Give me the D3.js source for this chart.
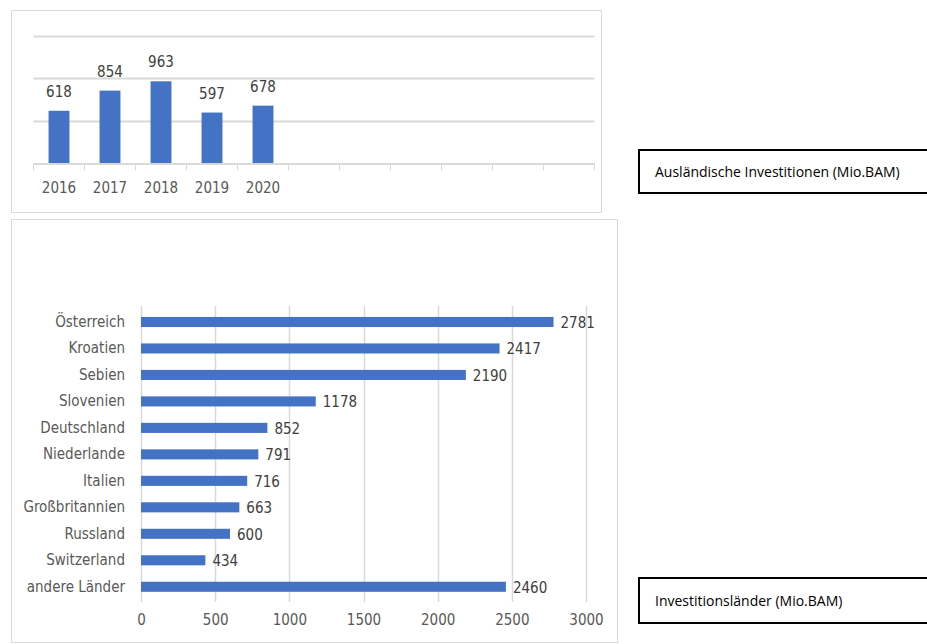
<!DOCTYPE html>
<html>
  <head>
    <meta charset="utf-8">
    <title>Ausländische Investitionen</title>
    <style>
      body { margin: 0; background: #fff; }
      svg text { font-family: "Liberation Sans Narrow", "DejaVu Sans Condensed", "Roboto", sans-serif; }
    </style>
  </head>
  <body>
    <script src="https://d3js.org/d3.v7.min.js"></script>
    <svg id="chart" width="927" height="644"></svg>
    <script>
      // data, top chart
      years = ["2016", "2017", "2018", "2019", "2020"]
      yearValues = [618, 854, 963, 597, 678]
      emptySlots = ["s1", "s2", "s3", "s4", "s5", "s6"]
      yearTicks = [500, 1000, 1500]

      // data, bottom chart
      countries = ["Österreich", "Kroatien", "Sebien", "Slovenien", "Deutschland", "Niederlande",
                   "Italien", "Großbritannien", "Russland", "Switzerland", "andere Länder"]
      countryValues = [2781, 2417, 2190, 1178, 852, 791, 716, 663, 600, 434, 2460]
      countryTicks = [0, 500, 1000, 1500, 2000, 2500, 3000]

      legendTop = "Ausländische Investitionen (Mio.BAM)"
      legendBottom = "Investitionsländer (Mio.BAM)"

      barColor = "#4472c4"
      gridColor = "#d9d9d9"
      labelColor = "#595959"

      let svg = d3.select('#chart')

      // panel frames
      svg.append('rect').attr('x', 11.5).attr('y', 10.5).attr('width', 590).attr('height', 202)
        .attr('fill', 'none').attr('stroke', gridColor)
      svg.append('rect').attr('x', 11.5).attr('y', 219.5).attr('width', 606).attr('height', 423)
        .attr('fill', 'none').attr('stroke', gridColor)

      // ---- top chart: column chart by year
      let slots = years.concat(emptySlots)
      let xSlot = d3.scaleBand().domain(slots).range([33.5, 594.5]).padding(0)
      let yTop = d3.scaleLinear().domain([0, 1500]).range([163.5, 35.5])
      let gTop = svg.append('g')

      gTop.selectAll('line.grid').data(yearTicks).join('line')
        .attr('class', 'grid')
        .attr('x1', 33.5).attr('x2', 594.5)
        .attr('y1', d => Math.round(yTop(d)) + 0.5).attr('y2', d => Math.round(yTop(d)) + 0.5)
        .attr('stroke', gridColor).attr('stroke-width', 2)

      let bw = xSlot.bandwidth() * 0.41
      gTop.selectAll('rect.bar').data(years).join('rect')
        .attr('class', 'bar')
        .attr('x', d => xSlot(d) + (xSlot.bandwidth() - bw) / 2)
        .attr('width', bw)
        .attr('y', (d, i) => yTop(yearValues[i]))
        .attr('height', (d, i) => yTop(0) - yTop(yearValues[i]))
        .attr('fill', barColor)

      gTop.selectAll('text.val').data(years).join('text')
        .attr('class', 'val')
        .attr('x', d => xSlot(d) + xSlot.bandwidth() / 2)
        .attr('y', (d, i) => yTop(yearValues[i]) - 14)
        .attr('text-anchor', 'middle')
        .attr('font-size', 15)
        .attr('fill', '#404040')
        .text((d, i) => yearValues[i])

      // category axis with ticks on band edges
      let xAxis = gTop.append('g').attr('transform', 'translate(0,' + yTop(0) + ')')
        .call(d3.axisBottom(xSlot).tickSize(0).tickPadding(19)
          .tickFormat(d => years.includes(d) ? d : ''))
      xAxis.select('.domain').attr('stroke', gridColor).attr('stroke-width', 2)
      xAxis.selectAll('text').attr('font-size', 15).attr('fill', labelColor)
      gTop.selectAll('line.edge').data(slots.map(d => xSlot(d)).concat([594.5])).join('line')
        .attr('class', 'edge')
        .attr('x1', d => d).attr('x2', d => d)
        .attr('y1', yTop(0)).attr('y2', yTop(0) + 7)
        .attr('stroke', gridColor)

      // ---- bottom chart: horizontal bars by country
      let yBar = d3.scaleBand().domain(countries).range([308.75, 600]).paddingInner(0.62).paddingOuter(0.31)
      let xBar = d3.scaleLinear().domain([0, 3000]).range([141, 586])
      let gBottom = svg.append('g')

      gBottom.selectAll('line.vgrid').data(countryTicks).join('line')
        .attr('class', 'vgrid')
        .attr('x1', d => Math.round(xBar(d)) + 0.5).attr('x2', d => Math.round(xBar(d)) + 0.5)
        .attr('y1', 306).attr('y2', 602)
        .attr('stroke', gridColor).attr('stroke-width', 1.5)

      gBottom.selectAll('rect.hbar').data(countries).join('rect')
        .attr('class', 'hbar')
        .attr('x', xBar(0))
        .attr('y', d => yBar(d))
        .attr('height', yBar.bandwidth())
        .attr('width', (d, i) => xBar(countryValues[i]) - xBar(0))
        .attr('fill', barColor)

      gBottom.selectAll('text.hval').data(countries).join('text')
        .attr('class', 'hval')
        .attr('x', (d, i) => xBar(countryValues[i]) + 7)
        .attr('y', d => yBar(d) + yBar.bandwidth() / 2 + 6)
        .attr('font-size', 15)
        .attr('fill', '#404040')
        .text((d, i) => countryValues[i])

      let yAxis = gBottom.append('g').attr('transform', 'translate(' + xBar(0) + ',0)')
        .call(d3.axisLeft(yBar).tickSize(0).tickPadding(16))
      yAxis.select('.domain').remove()
      yAxis.selectAll('text').attr('font-size', 15).attr('fill', labelColor)

      let xAxisB = gBottom.append('g').attr('transform', 'translate(0,606)')
        .call(d3.axisBottom(xBar).tickValues(countryTicks).tickFormat(d3.format('d'))
          .tickSize(0).tickPadding(8))
      xAxisB.select('.domain').remove()
      xAxisB.selectAll('text').attr('font-size', 15).attr('fill', labelColor)

      // ---- legend boxes on the right
      let boxes = [{y: 150, h: 43, label: legendTop}, {y: 578, h: 45, label: legendBottom}]
      boxes.forEach(b => {
        svg.append('rect').attr('x', 639).attr('y', b.y).attr('width', 300).attr('height', b.h)
          .attr('fill', '#fff').attr('stroke', '#000').attr('stroke-width', 2)
        svg.append('text').attr('x', 655).attr('y', b.y + b.h / 2 + 5)
          .attr('font-size', 14).attr('fill', '#000')
          .style('font-family', '"Open Sans", "Noto Sans", sans-serif')
          .text(b.label)
      })
    </script>
  </body>
</html>
